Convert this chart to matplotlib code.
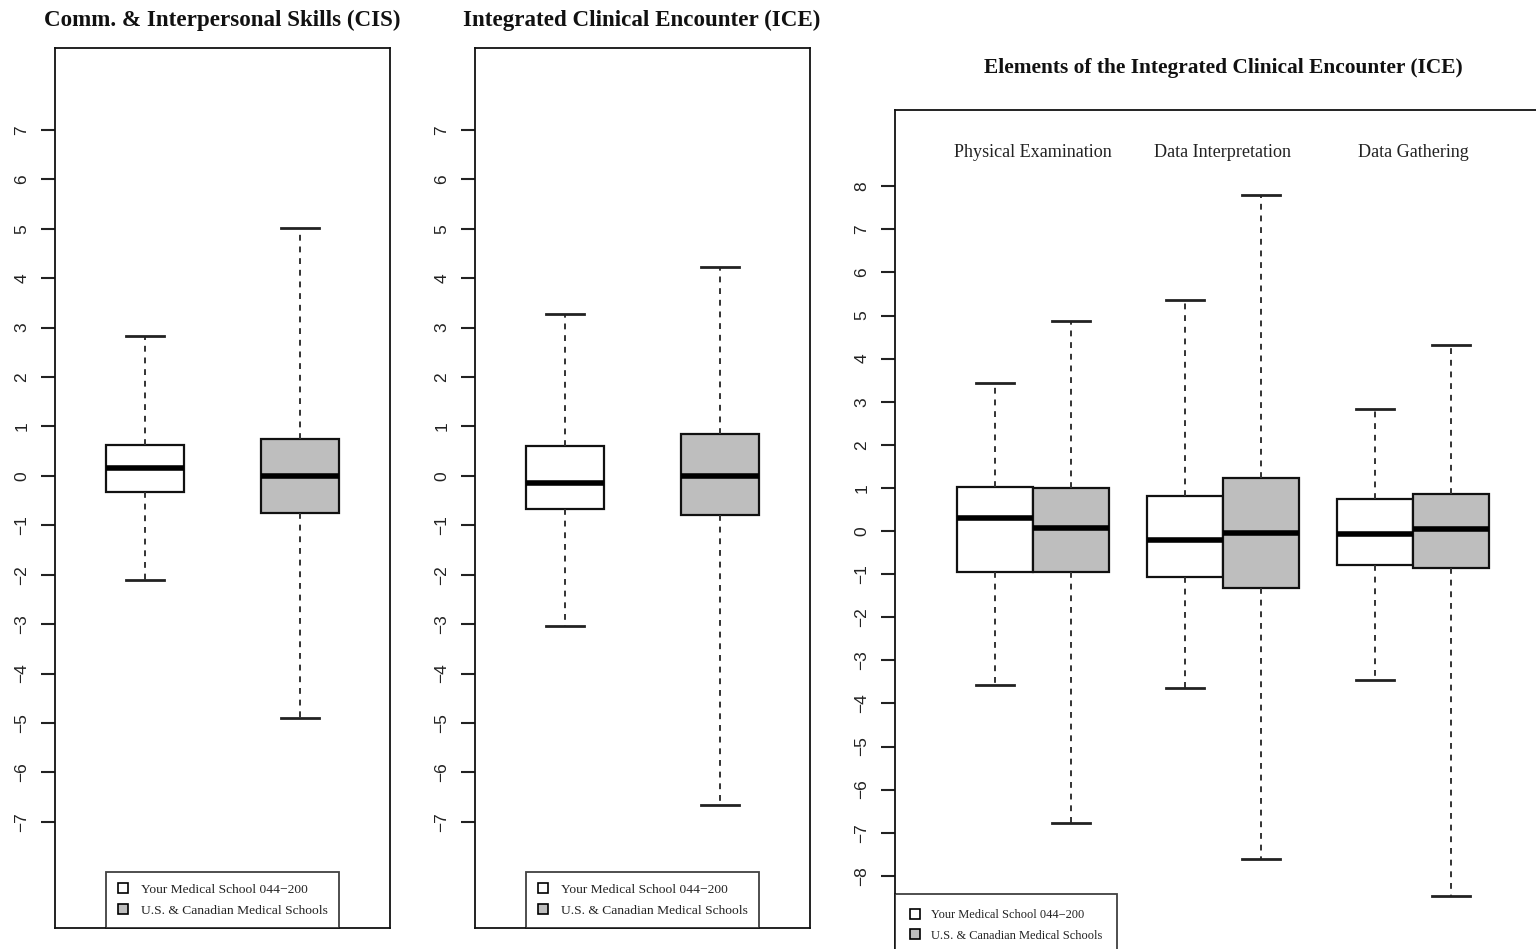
import matplotlib
matplotlib.use("Agg")
import matplotlib.pyplot as plt
from matplotlib.lines import Line2D

# Five-number summaries: (lower whisker, Q1, median, Q3, upper whisker)
series_names = ["Your Medical School 044\u2212200", "U.S. & Canadian Medical Schools"]

cis_your = [-2.10, -0.32, 0.16, 0.63, 2.83]
cis_us = [-4.90, -0.75, 0.00, 0.75, 5.02]

ice_your = [-3.04, -0.67, -0.14, 0.61, 3.28]
ice_us = [-6.66, -0.79, 0.00, 0.85, 4.23]

element_names = ["Physical Examination", "Data Interpretation", "Data Gathering"]
pe_your = [-3.57, -0.95, 0.30, 1.02, 3.43]
pe_us = [-6.77, -0.95, 0.07, 1.00, 4.87]
di_your = [-3.64, -1.07, -0.20, 0.81, 5.36]
di_us = [-7.61, -1.32, -0.05, 1.23, 7.80]
dg_your = [-3.46, -0.79, -0.08, 0.74, 2.83]
dg_us = [-8.47, -0.86, 0.05, 0.86, 4.32]

titles = ["Comm. & Interpersonal Skills (CIS)",
          "Integrated Clinical Encounter (ICE)",
          "Elements of the Integrated Clinical Encounter (ICE)"]

fills = ["white", "#BEBEBE"]

W, H = 1536, 949
fig = plt.figure(figsize=(W / 100, H / 100), dpi=100)


def px_axes(left, top, right, bottom):
    return fig.add_axes([left / W, (H - bottom) / H, (right - left) / W, (bottom - top) / H])


def stats(vals, label):
    lo, q1, med, q3, hi = vals
    return dict(whislo=lo, q1=q1, med=med, q3=q3, whishi=hi, label=label, fliers=[])


def draw_boxes(ax, summaries, positions, width):
    st = [stats(v, "") for v in summaries]
    arts = ax.bxp(st, positions=positions, widths=width, patch_artist=True,
                  showfliers=False, manage_ticks=False,
                  boxprops=dict(edgecolor="#111111", linewidth=1.6),
                  medianprops=dict(color="black", linewidth=4.0, solid_capstyle="butt"),
                  whiskerprops=dict(color="#333333", linewidth=1.4, linestyle=(0, (3, 3))),
                  capprops=dict(color="#222222", linewidth=2.0),
                  capwidths=width * 0.5)
    for i, b in enumerate(arts["boxes"]):
        b.set_facecolor(fills[i % 2])
    return arts


def style_axis(ax, ticks):
    for s in ax.spines.values():
        s.set_linewidth(1.3)
        s.set_color("#111111")
    ax.set_xticks([])
    ax.set_yticks(ticks)
    ax.set_yticklabels([f"{t}".replace("-", "\u2212") for t in ticks],
                       rotation=90, va="center", ha="center",
                       family="Liberation Sans", fontsize=12.5, color="#222222")
    ax.tick_params(axis="y", length=10, width=1.5, pad=14, color="#222222")


handles = [Line2D([], [], linestyle="none", marker="s", markersize=7.5,
                  markerfacecolor=fills[i], markeredgecolor="black", markeredgewidth=1.2)
           for i in range(2)]


def add_legend(ax, size, spacing, pad, **kw):
    leg = ax.legend(handles, series_names, frameon=True, fancybox=False,
                    prop=dict(family="Liberation Serif", size=size),
                    handlelength=0.8, handletextpad=0.9, labelspacing=spacing,
                    borderpad=pad, borderaxespad=0, **kw)
    leg.get_frame().set_edgecolor("#111111")
    leg.get_frame().set_linewidth(1.3)
    for t in leg.get_texts():
        t.set_color("#222222")
    return leg


# Left two panels: overall scores
panel_data = [(cis_your, cis_us), (ice_your, ice_us)]
panel_left = [55, 475]
for k in range(2):
    ax = px_axes(panel_left[k], 48, panel_left[k] + 335, 928)
    draw_boxes(ax, list(panel_data[k]), [1, 2], 0.5)
    ax.set_xlim(0.42, 2.58)
    ax.set_ylim(-9.15, 8.66)
    style_axis(ax, list(range(-7, 8)))
    add_legend(ax, 9.7, 0.6, 0.85, loc="lower center", bbox_to_anchor=(0.5, 0.0))
    fig.text((panel_left[k] + 167) / W, 1 - 20 / H, titles[k], ha="center", va="center",
             family="Liberation Serif", weight="bold", fontsize=16.6, color="#111111")

# Right panel: the three elements, paired boxes per element
ax3 = px_axes(895, 110, 1551, 962)
pos3 = [1, 2, 3.5, 4.5, 6, 7]
draw_boxes(ax3, [pe_your, pe_us, di_your, di_us, dg_your, dg_us], pos3, 1.0)
ax3.set_xlim(-0.316, 8.316)
ax3.set_ylim(-10.0, 9.77)
style_axis(ax3, list(range(-8, 9)))
for j, name in enumerate(element_names):
    xc = (pos3[2 * j] + pos3[2 * j + 1]) / 2
    ax3.text(xc, 8.79, name, ha="center", va="center", family="Liberation Serif",
             fontsize=13.1, color="#222222")
add_legend(ax3, 8.9, 0.72, 1.2, loc="upper left", bbox_to_anchor=(0.0, (962 - 894) / 852))
fig.text(1223 / W, 1 - 68 / H, titles[2], ha="center", va="center",
         family="Liberation Serif", weight="bold", fontsize=15.4, color="#111111")

fig.savefig("out.png", dpi=100)
